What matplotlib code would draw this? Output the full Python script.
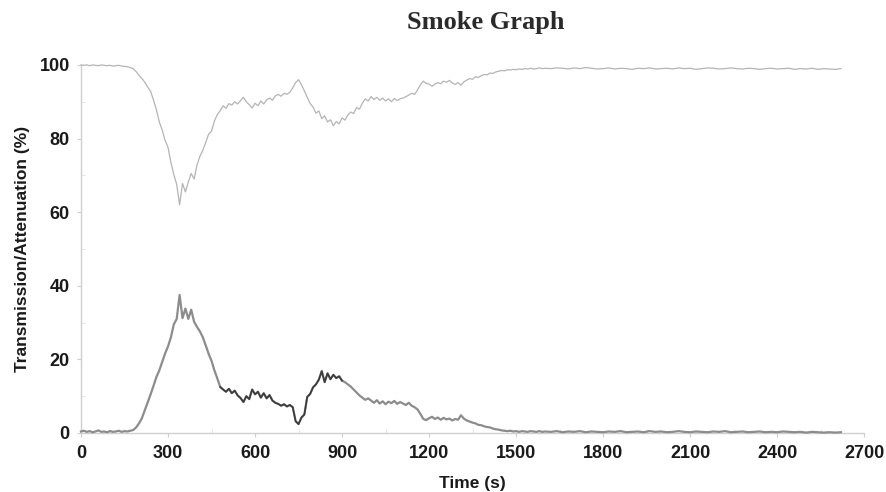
import matplotlib
matplotlib.use("Agg")
import matplotlib.pyplot as plt
import numpy as np
from matplotlib.ticker import MultipleLocator

# ---- data ----
time_s = [
    0, 10, 20, 30, 40, 50, 60, 70, 80, 90,
    100, 110, 120, 130, 140, 150, 160, 170, 180, 190,
    200, 210, 220, 230, 240, 250, 260, 270, 280, 290,
    300, 310, 320, 330, 340, 350, 360, 370, 380, 390,
    400, 410, 420, 430, 440, 450, 460, 470, 480, 490,
    500, 510, 520, 530, 540, 550, 560, 570, 580, 590,
    600, 610, 620, 630, 640, 650, 660, 670, 680, 690,
    700, 710, 720, 730, 740, 750, 760, 770, 780, 790,
    800, 810, 820, 830, 840, 850, 860, 870, 880, 890,
    900, 910, 920, 930, 940, 950, 960, 970, 980, 990,
    1000, 1010, 1020, 1030, 1040, 1050, 1060, 1070, 1080, 1090,
    1100, 1110, 1120, 1130, 1140, 1150, 1160, 1170, 1180, 1190,
    1200, 1210, 1220, 1230, 1240, 1250, 1260, 1270, 1280, 1290,
    1300, 1310, 1320, 1330, 1340, 1350, 1360, 1370, 1380, 1390,
    1400, 1410, 1420, 1430, 1440, 1450, 1460, 1470, 1480, 1490,
    1500, 1510, 1520, 1530, 1540, 1550, 1560, 1570, 1580, 1590,
    1600,
    1620, 1640, 1660, 1680, 1700, 1720, 1740, 1760, 1780, 1800,
    1820, 1840, 1860, 1880, 1900, 1920, 1940, 1960, 1980, 2000,
    2020, 2040, 2060, 2080, 2100, 2120, 2140, 2160, 2180, 2200,
    2220, 2240, 2260, 2280, 2300, 2320, 2340, 2360, 2380, 2400,
    2420, 2440, 2460, 2480, 2500, 2520, 2540, 2560, 2580, 2600,
    2620,
]

transmission = [
    100, 99.9, 100, 99.8, 100, 99.9, 99.8, 100, 99.9, 99.8,
    99.9, 99.7, 99.8, 99.9, 99.7, 99.6, 99.5, 99.3, 99.0, 98.2,
    97.2, 96.3, 95.3, 94.0, 92.8, 90.5, 87.8, 84.5, 82.3, 79.5,
    77.6, 73.5, 70.2, 67.5, 62.0, 67.8, 65.5, 68.2, 70.5, 69.0,
    72.8, 75.2, 76.8, 78.9, 81.2, 82.0, 84.8, 86.5, 87.6, 88.9,
    88.2, 89.5, 89.1, 90.0, 89.4, 90.3, 91.2, 90.0, 89.2, 88.3,
    89.6, 88.9, 90.2, 89.4, 90.5, 91.0, 90.4, 91.6, 92.0, 91.5,
    92.3, 92.0, 92.6, 93.8, 95.2, 96.0, 94.6, 93.0, 91.2, 89.5,
    88.6, 86.9, 87.5, 85.4, 86.2, 84.5, 85.1, 83.5, 84.6, 84.0,
    85.6, 85.0, 86.4, 87.2, 86.8, 88.4, 88.0, 89.6, 90.8, 90.2,
    91.4, 90.6, 91.2, 90.4, 91.0, 90.2, 90.8, 90.0, 90.9, 90.3,
    90.8, 91.0, 91.4, 91.8, 92.3, 92.0, 93.2, 94.6, 95.6, 95.0,
    94.8, 94.2, 94.8, 95.2, 94.9, 95.6, 95.3, 95.8, 95.1, 94.7,
    95.2, 94.5, 95.4, 95.9, 96.3, 96.1, 96.8, 96.6, 97.1, 97.4,
    97.3, 97.8, 97.7, 98.1, 98.3, 98.5, 98.4, 98.7, 98.6, 98.8,
    98.7, 98.9, 98.8, 99.0, 98.9, 99.1, 98.9, 99.0, 99.2, 99.0,
    99.1,
    99.0, 99.2, 99.1, 98.9, 99.2, 99.0, 99.3, 99.1, 98.9, 99.0,
    99.2, 98.9, 99.1, 99.0, 98.8, 99.1, 99.0, 99.2, 98.9, 99.0,
    99.1, 98.9, 99.2, 99.0, 99.1, 98.8, 99.0, 99.2, 99.1, 98.9,
    99.0, 99.2, 99.0, 98.9, 99.1, 99.0, 98.8, 99.0, 99.1, 98.9,
    99.0, 99.1, 98.8, 99.0, 98.9, 99.1, 98.8, 99.0, 98.9, 98.8,
    99.0,
]

attenuation = [
    0.4, 0.6, 0.3, 0.5, 0.2, 0.4, 0.7, 0.3, 0.4, 0.2,
    0.5, 0.3, 0.4, 0.6, 0.3, 0.5, 0.4, 0.6, 0.8, 1.5,
    2.6, 4.0, 6.2, 8.3, 10.5, 12.8, 15.2, 17.0, 19.3, 21.6,
    23.5, 26.0, 29.5, 31.0, 37.5, 31.2, 33.8, 31.0, 33.5, 30.2,
    28.8, 27.6, 26.0, 23.8, 21.5, 19.6, 17.0, 14.8, 12.5, 11.8,
    11.2, 12.0, 10.8, 11.5, 10.2, 9.5, 8.4, 10.0, 9.2, 11.8,
    10.5, 11.2, 9.6, 10.8, 9.4, 10.3, 8.8, 8.2, 7.9, 7.4,
    7.8, 7.2, 7.6, 7.0, 3.2, 2.4, 4.2, 5.0, 9.8, 10.6,
    12.4, 13.2, 14.5, 16.8, 13.8, 16.2, 14.6, 15.8, 14.9, 15.4,
    14.2, 13.8, 13.2, 12.6, 11.8, 11.0, 10.2, 9.6, 9.0, 9.4,
    8.8, 8.2, 8.9, 8.0, 8.6, 7.8, 8.5, 8.1, 8.7, 7.9,
    8.4, 8.0, 7.6, 8.2, 7.4, 7.0, 6.4, 5.2, 3.8, 3.5,
    4.0, 4.4, 3.8, 4.2, 3.6, 4.1, 3.7, 3.9, 3.4, 3.8,
    3.6, 4.8, 3.9, 3.4, 3.1, 2.8, 2.6, 2.2, 2.1, 1.8,
    1.6, 1.5, 1.2, 1.0, 0.9, 0.7, 0.6, 0.5, 0.6, 0.4,
    0.5, 0.3, 0.5, 0.4, 0.3, 0.5, 0.4, 0.3, 0.5, 0.3,
    0.4,
    0.3, 0.5, 0.2, 0.4, 0.3, 0.5, 0.2, 0.4, 0.3, 0.2,
    0.4, 0.3, 0.5, 0.2, 0.3, 0.4, 0.2, 0.5, 0.3, 0.4,
    0.2, 0.3, 0.5, 0.3, 0.2, 0.4, 0.3, 0.2, 0.4, 0.3,
    0.5, 0.2, 0.3, 0.4, 0.2, 0.3, 0.4, 0.2, 0.3, 0.2,
    0.4, 0.3, 0.2, 0.3, 0.1, 0.3, 0.2, 0.1, 0.2, 0.1,
    0.2,
]

dark_span = [480, 900]  # time range where the attenuation trace is drawn darker

x_ticks = [0, 300, 600, 900, 1200, 1500, 1800, 2100, 2400, 2700]
y_ticks = [0, 20, 40, 60, 80, 100]

title_text = "Smoke Graph"
x_label = "Time (s)"
y_label = "Transmission/Attenuation (%)"

# ---- figure ----
t = np.array(time_s, dtype=float)
tr = np.array(transmission, dtype=float)
at = np.array(attenuation, dtype=float)

fig = plt.figure(figsize=(8.87, 4.92), dpi=100)
ax = fig.add_axes([0.0913, 0.120, 0.883, 0.748])

ax.plot(t, tr, color="#b4b4b4", lw=0.9, clip_on=False, zorder=3)
ax.plot(t, at, color="#8c8c8c", lw=1.6, clip_on=False, zorder=3)
mask = (t >= dark_span[0]) & (t <= dark_span[1])
ax.plot(t[mask], at[mask], color="#3a3a3a", lw=1.2, clip_on=False, zorder=4)

ax.set_xlim(0, 2700)
ax.set_ylim(0, 100)
ax.set_xticks(x_ticks)
ax.set_yticks(y_ticks)
ax.xaxis.set_minor_locator(MultipleLocator(150))
ax.yaxis.set_minor_locator(MultipleLocator(10))

for s in ["top", "right"]:
    ax.spines[s].set_visible(False)
for s in ["left", "bottom"]:
    ax.spines[s].set_color("#cfcfcf")
    ax.spines[s].set_linewidth(1.0)

ax.tick_params(axis="both", which="major", length=3, color="#cfcfcf",
               labelsize=13, labelcolor="#1a1a1a")
ax.tick_params(axis="both", which="minor", length=3, color="#e0e0e0",
               direction="in")
ax.tick_params(axis="x", which="major", pad=6)
ax.tick_params(axis="y", which="major", pad=5)
for lab in ax.get_xticklabels() + ax.get_yticklabels():
    lab.set_fontfamily("Liberation Sans")
    lab.set_fontweight("bold")

ax.set_xlabel(x_label, fontsize=12.5, fontweight="bold",
              fontfamily="Liberation Sans", color="#1a1a1a", labelpad=10)
ax.set_ylabel(y_label, fontsize=12.5, fontweight="bold",
              fontfamily="Liberation Sans", color="#1a1a1a", labelpad=7)
fig.text(486 / 887, 1 - 22 / 492, title_text, ha="center", va="center",
         fontsize=19, fontweight="bold", fontfamily="Liberation Serif",
         color="#2a2a2a")

fig.savefig("out.png", dpi=100)
